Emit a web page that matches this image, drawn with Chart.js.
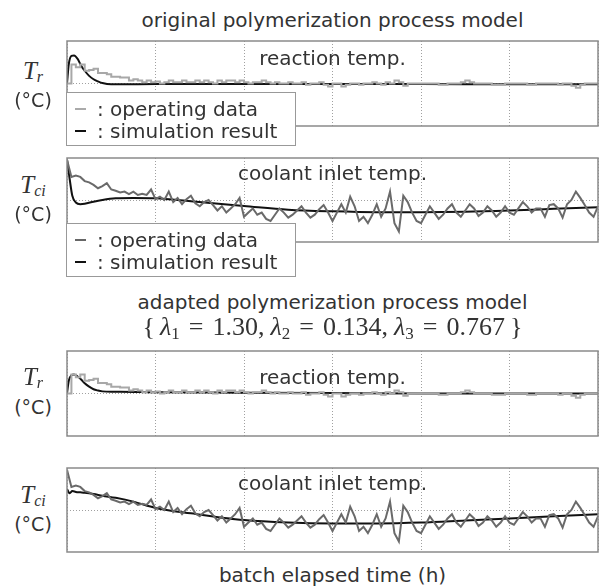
<!DOCTYPE html>
<html lang="en">
<head>
<meta charset="UTF-8">
<title>Polymerization process model</title>
<script src="https://cdn.jsdelivr.net/npm/chart.js"></script>
<style>
    body { margin: 0; background: #fff; }
    #page { position: relative; width: 602px; height: 588px; font-family: "DejaVu Sans", Verdana, sans-serif; color: #333; }
    .panel { position: absolute; left: 66px; width: 533px; }
    .txt { position: absolute; left: 66px; width: 533px; text-align: center; font-size: 20px; line-height: 24px; white-space: nowrap; }
    .ylab { position: absolute; left: 0; width: 66px; text-align: center; white-space: nowrap; }
    .sym { font-family: "Liberation Serif", "DejaVu Serif", serif; font-style: italic; font-size: 25px; line-height: 26px; }
    .sym sub { font-size: 16px; vertical-align: -3px; }
    .unit { font-size: 19px; line-height: 22px; }
    .legend { position: absolute; left: 66px; width: 230px; height: 54px; box-sizing: border-box; background: #fff;
              border: 1.5px solid #999; padding: 5px 0 0 8px; font-size: 20px; line-height: 22px; white-space: nowrap; }
    .dash { display: inline-block; width: 11px; height: 2px; vertical-align: 6px; margin-right: 11px; }
    .math { font-family: "Liberation Serif", "DejaVu Serif", serif; font-size: 26px; line-height: 28px; }
    .math sub { font-size: 17px; vertical-align: -4px; }
    .eq { padding: 0 9px; }
    .sep { padding-right: 6px; }
</style>
</head>
<body>
<div id="page">
    <div class="txt" style="top:8px">original polymerization process model</div>

    <div class="panel" style="top:40px;height:87px"><canvas id="c1"></canvas></div>
    <div class="panel" style="top:157px;height:86px"><canvas id="c2"></canvas></div>
    <div class="panel" style="top:350px;height:87px"><canvas id="c3"></canvas></div>
    <div class="panel" style="top:467px;height:86px"><canvas id="c4"></canvas></div>

    <div class="txt" style="top:46px">reaction temp.</div>
    <div class="ylab sym" style="top:58px">T<sub>r</sub></div>
    <div class="ylab unit" style="top:89px">(°C)</div>
    <div class="legend" style="top:92px">
        <div><span class="dash" style="background:#aaa"></span>: operating data</div>
        <div><span class="dash" style="background:#111"></span>: simulation result</div>
    </div>

    <div class="txt" style="top:161px">coolant inlet temp.</div>
    <div class="ylab sym" style="top:172px">T<sub>ci</sub></div>
    <div class="ylab unit" style="top:203px">(°C)</div>
    <div class="legend" style="top:223px">
        <div><span class="dash" style="background:#666"></span>: operating data</div>
        <div><span class="dash" style="background:#111"></span>: simulation result</div>
    </div>

    <div class="txt" style="top:290px">adapted polymerization process model</div>
    <div class="txt math" style="top:313px">{&thinsp;<i>λ</i><sub>1</sub><span class="eq">=</span><span class="sep">1.30,</span><i>λ</i><sub>2</sub><span class="eq">=</span><span class="sep">0.134,</span><i>λ</i><sub>3</sub><span class="eq">=</span>0.767&thinsp;}</div>

    <div class="txt" style="top:365px">reaction temp.</div>
    <div class="ylab sym" style="top:364px">T<sub>r</sub></div>
    <div class="ylab unit" style="top:396px">(°C)</div>

    <div class="txt" style="top:471px">coolant inlet temp.</div>
    <div class="ylab sym" style="top:482px">T<sub>ci</sub></div>
    <div class="ylab unit" style="top:513px">(°C)</div>

    <div class="txt" style="top:563px">batch elapsed time (h)</div>
</div>

<script>
    // sample times of the operating data (h)
    const opHours = [
        0, 0.05, 0.1, 0.15, 0.2, 0.25, 0.3, 0.35, 0.4, 0.45, 0.5, 0.55, 0.6, 0.65, 0.7, 0.75, 0.8, 0.85, 0.9, 0.95,
        1, 1.05, 1.1, 1.15, 1.2, 1.25, 1.3, 1.35, 1.4, 1.45, 1.5, 1.55, 1.6, 1.65, 1.7, 1.75, 1.8, 1.85, 1.9, 1.95,
        2, 2.05, 2.1, 2.15, 2.2, 2.25, 2.3, 2.35, 2.4, 2.45, 2.5, 2.55, 2.6, 2.65, 2.7, 2.75, 2.8, 2.85, 2.9, 2.95,
        3, 3.05, 3.1, 3.15, 3.2, 3.25, 3.3, 3.35, 3.4, 3.45, 3.5, 3.55, 3.6, 3.65, 3.7, 3.75, 3.8, 3.85, 3.9, 3.95,
        4, 4.05, 4.1, 4.15, 4.2, 4.25, 4.3, 4.35, 4.4, 4.45, 4.5, 4.55, 4.6, 4.65, 4.7, 4.75, 4.8, 4.85, 4.9, 4.95,
        5, 5.05, 5.1, 5.15, 5.2, 5.25, 5.3, 5.35, 5.4, 5.45, 5.5, 5.55, 5.6, 5.65, 5.7, 5.75, 5.8, 5.85, 5.9, 5.95,
        6
    ];

    // reaction temp., operating data (deviation from reference line)
    const opTr = [
        0, 0.45, 0.38, 0.45, 0.3, 0.32, 0.35, 0.25, 0.25, 0.22, 0.16, 0.16, 0.14, 0.14, 0.07, 0.1, 0.07, 0.03, 0.07, 0.03,
        0.05, 0, 0.03, 0.07, 0.03, 0.03, 0.07, 0.03, 0.03, 0.07, 0.03, 0.07, 0.03, 0, 0.07, 0.03, 0.07, 0.07, 0.03, 0.07,
        0.03, 0, 0.03, 0.03, 0.07, 0.03, 0, 0.03, 0, 0, 0.03, 0, 0, 0.03, -0.03, 0, 0, 0.03, -0.03, -0.07,
        0, 0, -0.07, -0.03, 0, 0, -0.03, 0, 0, 0.03, 0, -0.03, 0.03, 0, 0.07, 0.03, -0.05, 0, 0, 0,
        0, 0, 0, 0, -0.03, -0.03, 0, 0, 0, 0.03, 0.07, 0.03, 0, 0, 0, 0, -0.03, -0.03, -0.03, 0,
        0, 0, 0, 0, -0.03, -0.03, 0, 0, 0, 0, 0, -0.03, 0, 0, -0.05, -0.1, -0.03, 0, 0, 0,
        0
    ];

    // coolant inlet temp., operating data
    const opTci = [
        0.96, 0.55, 0.58, 0.55, 0.45, 0.42, 0.36, 0.28, 0.33, 0.4, 0.25, 0.22, 0.18, 0.2, 0.14, 0.2, 0.12, 0.15, 0.12, 0.25,
        0.02, 0.08, 0, 0.2, -0.05, 0.05, -0.1, 0.02, 0.1, -0.08, -0.15, -0.05, 0, -0.12, -0.25, -0.15, -0.3, -0.2, -0.1, 0.05,
        -0.4, -0.3, -0.2, -0.35, -0.3, -0.45, -0.5, -0.35, -0.2, -0.3, -0.42, -0.35, -0.25, -0.15, -0.3, -0.42, -0.35, -0.22, -0.12, -0.3,
        -0.5, -0.3, -0.1, -0.3, 0.08, -0.15, -0.5, -0.4, -0.55, -0.35, -0.1, -0.4, -0.2, 0.2, -0.55, -0.75, 0.1, -0.05, -0.3, -0.5,
        -0.55, -0.35, -0.15, -0.3, -0.45, -0.35, -0.2, -0.1, -0.3, -0.4, -0.25, -0.1, -0.2, -0.38, -0.3, -0.15, -0.25, -0.4, -0.3, -0.15,
        -0.3, -0.35, -0.2, -0.05, -0.15, -0.3, -0.2, -0.2, -0.4, -0.12, -0.1, -0.2, -0.42, -0.1, 0, 0.2, 0.05, -0.12, -0.3, -0.4,
        -0.15
    ];

    // simulation results
    const simTrHours = [0, 0.02, 0.05, 0.08, 0.12, 0.16, 0.2, 0.25, 0.3, 0.35, 0.4, 0.5, 0.6, 1, 2, 3, 4, 5, 6];
    const simTrOrig = [0, 0.45, 0.65, 0.66, 0.58, 0.42, 0.3, 0.18, 0.1, 0.05, 0.01, -0.02, -0.02, -0.01, -0.01, -0.01, -0.01, -0.02, -0.02];
    const simTrAdapted = [0, 0.3, 0.43, 0.45, 0.4, 0.33, 0.24, 0.16, 0.1, 0.07, 0.05, 0.04, 0.04, 0.03, 0.02, 0.01, 0, 0, 0];

    const simTciHours = [0, 0.03, 0.06, 0.1, 0.15, 0.2, 0.3, 0.4, 0.55, 0.75, 1, 1.4, 2, 2.5, 3, 3.5, 4, 4.5, 5, 5.5, 6];
    const simTciOrig = [0.96, 0.5, 0.1, -0.06, -0.1, -0.09, -0.04, 0, 0.04, 0.05, 0.04, -0.03, -0.14, -0.23, -0.27, -0.29, -0.29, -0.28, -0.25, -0.21, -0.17];
    const simTciAdapted = [0.5, 0.4, 0.45, 0.43, 0.42, 0.41, 0.38, 0.34, 0.29, 0.2, 0.05, -0.08, -0.24, -0.3, -0.32, -0.32, -0.3, -0.25, -0.2, -0.15, -0.1];

    const hourGrid = [0, 1, 2, 3, 4, 5, 6];
    const refLevel = [0];

    function pts(xs, ys) {
        return xs.map(function (x, i) { return { x: x, y: ys[i] }; });
    }

    // box around the plot area
    const frame = {
        id: 'frame',
        afterDraw: function (chart) {
            const a = chart.chartArea;
            const ctx = chart.ctx;
            ctx.save();
            ctx.strokeStyle = '#8a8a8a';
            ctx.lineWidth = 1.5;
            ctx.strokeRect(a.left, a.top, a.right - a.left, a.bottom - a.top);
            ctx.restore();
        }
    };

    function plotar(id, opValues, opColor, opStepped, simHours, simValues) {
        const canvas = document.getElementById(id);
        const box = canvas.parentNode;
        canvas.width = box.clientWidth;
        canvas.height = box.clientHeight;

        new Chart(canvas, {
            type: 'line',
            data: {
                datasets: [{
                    data: pts(opHours, opValues),
                    borderColor: opColor,
                    borderWidth: 2,
                    pointRadius: 0,
                    stepped: opStepped
                }, {
                    data: pts(simHours, simValues),
                    borderColor: '#111',
                    borderWidth: 2,
                    pointRadius: 0,
                    cubicInterpolationMode: 'monotone'
                }]
            },
            options: {
                responsive: false,
                animation: false,
                layout: { padding: 1 },
                plugins: { legend: { display: false }, tooltip: { enabled: false } },
                scales: {
                    x: {
                        type: 'linear', min: 0, max: 6,
                        afterBuildTicks: function (s) { s.ticks = hourGrid.map(function (v) { return { value: v }; }); },
                        ticks: { display: false },
                        grid: { drawTicks: false, color: '#a0a0a0', lineWidth: 1 },
                        border: { display: false, dash: [1, 2] }
                    },
                    y: {
                        min: -1, max: 1,
                        afterBuildTicks: function (s) { s.ticks = refLevel.map(function (v) { return { value: v }; }); },
                        ticks: { display: false },
                        grid: { drawTicks: false, color: '#a0a0a0', lineWidth: 1 },
                        border: { display: false, dash: [1, 2] }
                    }
                }
            },
            plugins: [frame]
        });
    }

    plotar('c1', opTr, '#a8a8a8', true, simTrHours, simTrOrig);
    plotar('c2', opTci, '#6a6a6a', false, simTciHours, simTciOrig);
    plotar('c3', opTr, '#a8a8a8', true, simTrHours, simTrAdapted);
    plotar('c4', opTci, '#6a6a6a', false, simTciHours, simTciAdapted);
</script>
</body>
</html>
